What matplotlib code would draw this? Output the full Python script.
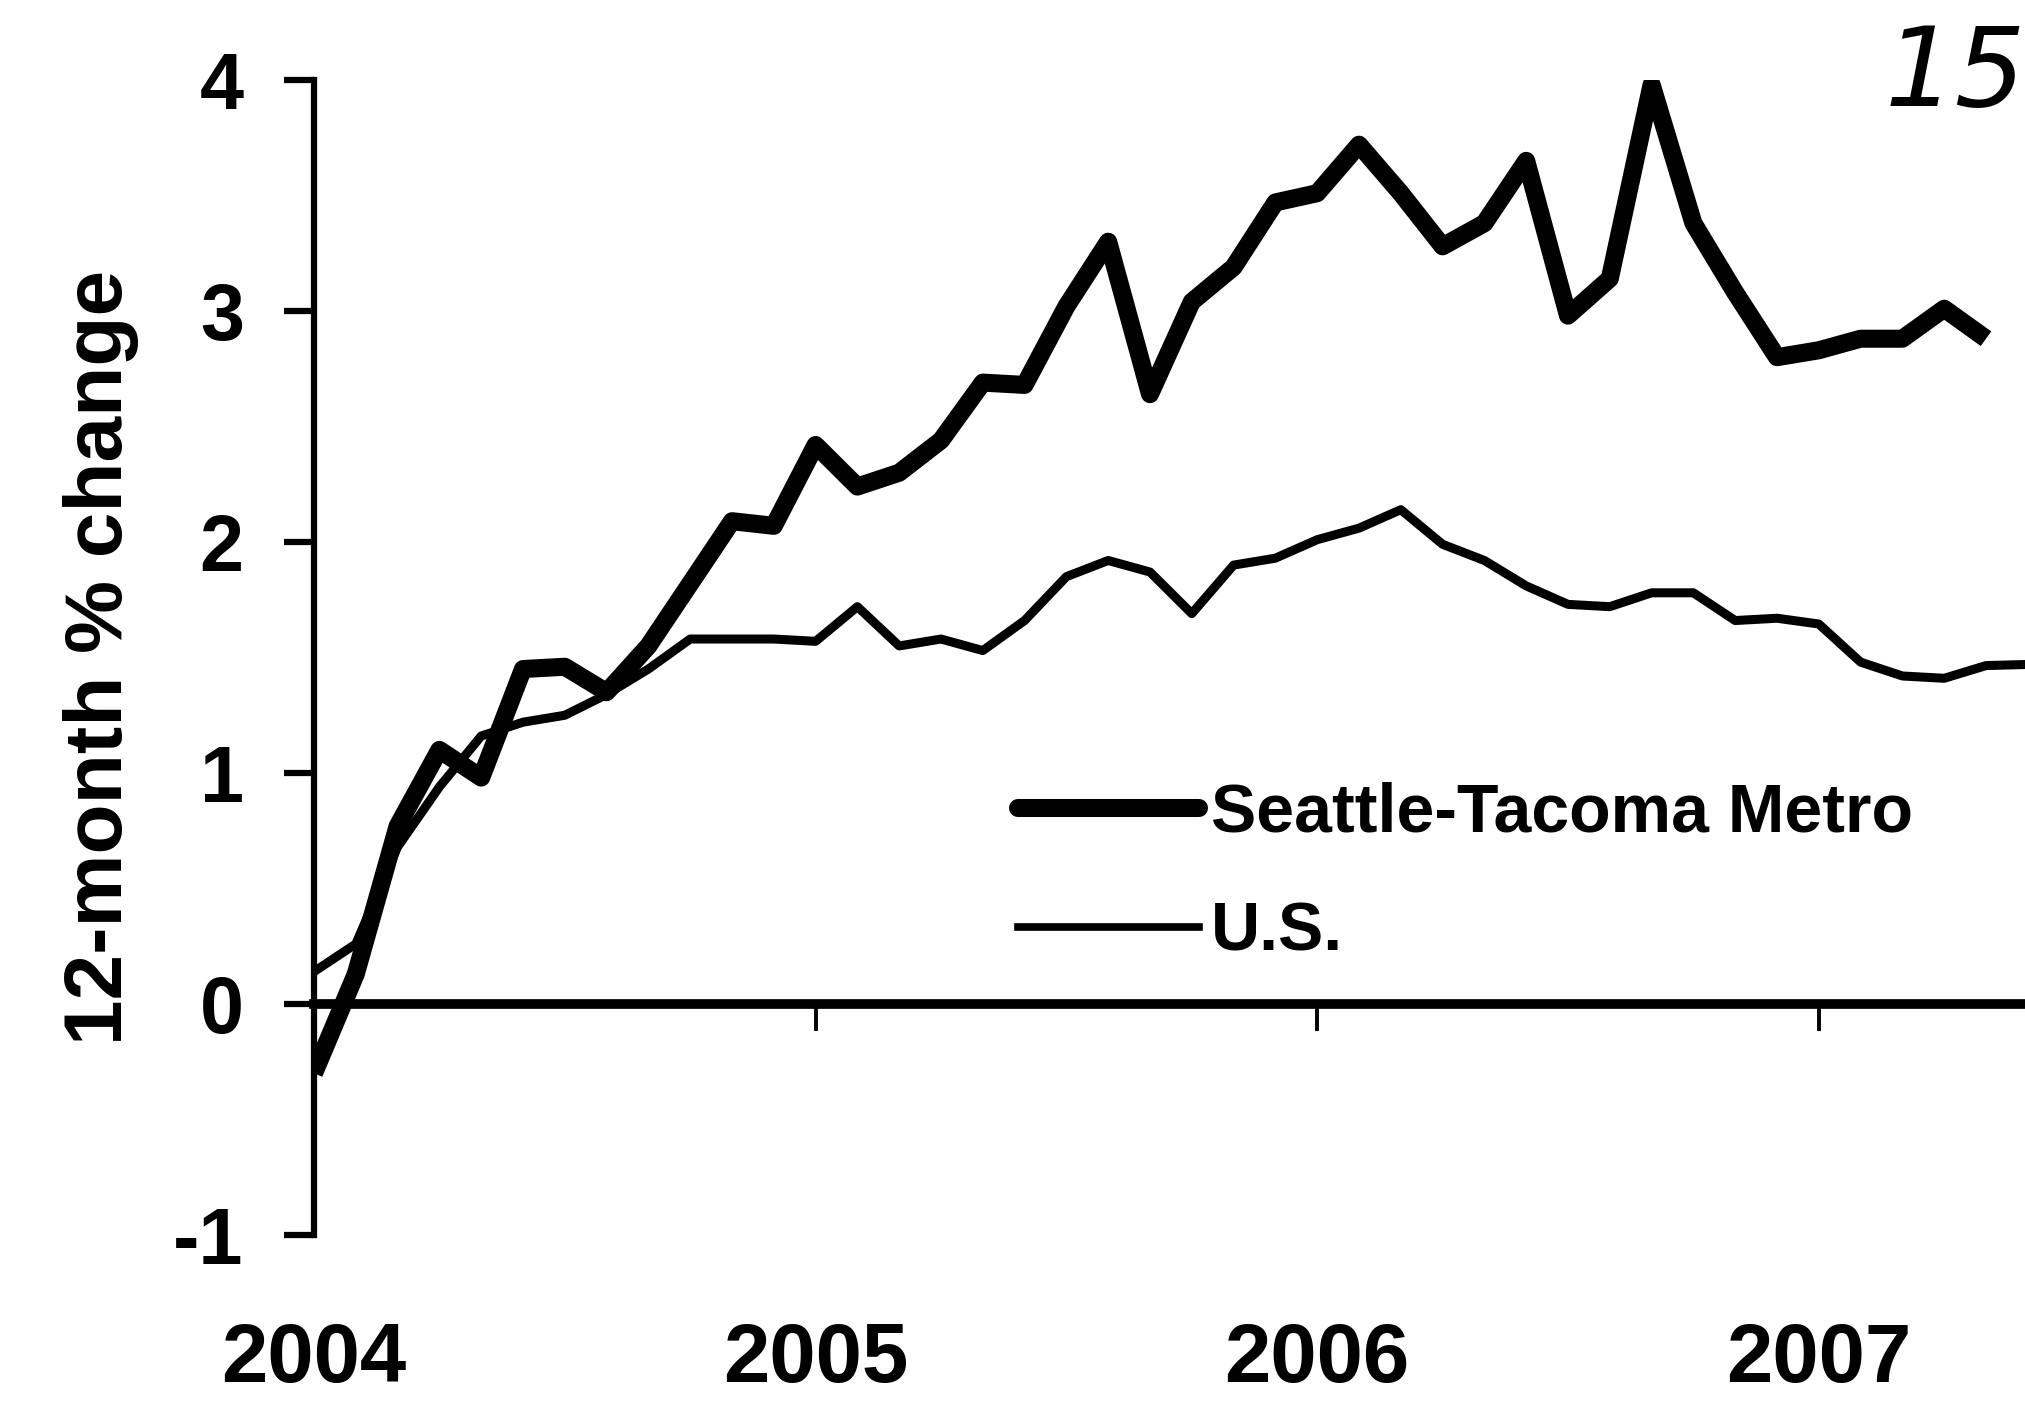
import matplotlib
matplotlib.use("Agg")
import matplotlib.pyplot as plt
from matplotlib.lines import Line2D

# ---- data (12-month % change, monthly from Jan 2004) ----
seattle = [-0.30, 0.13, 0.77, 1.10, 0.98, 1.45, 1.46, 1.35, 1.55, 1.82,
           2.09, 2.07, 2.42, 2.24, 2.30, 2.44, 2.69, 2.68, 3.02, 3.30,
           2.64, 3.04, 3.19, 3.47, 3.51, 3.72, 3.51, 3.28, 3.38, 3.65,
           2.98, 3.14, 3.98, 3.38, 3.08, 2.80, 2.83, 2.88, 2.88, 3.01,
           2.88]
us = [0.14, 0.26, 0.68, 0.94, 1.16, 1.22, 1.25, 1.34, 1.45, 1.58,
      1.58, 1.58, 1.57, 1.72, 1.55, 1.58, 1.53, 1.66, 1.85, 1.92,
      1.87, 1.69, 1.90, 1.93, 2.01, 2.06, 2.14, 1.99, 1.92, 1.81,
      1.73, 1.72, 1.78, 1.78, 1.66, 1.67, 1.645, 1.48, 1.42, 1.41,
      1.465, 1.47]
start_year = 2004
year_labels = ["2004", "2005", "2006", "2007"]
year_ticks = [2004, 2005, 2006, 2007]
y_ticks = [-1, 0, 1, 2, 3, 4]
series_names = ["Seattle-Tacoma Metro", "U.S."]
ylabel = "12-month % change"

x_sea = [start_year + i / 12 for i in range(len(seattle))]
x_us = [start_year + i / 12 for i in range(len(us))]

FONT = "Liberation Sans"
W, H, DPI = 2025, 1414, 100
fig = plt.figure(figsize=(W / DPI, H / DPI), dpi=DPI)
fig.patch.set_facecolor("white")

ax_left, ax_right = 314 / W, 1.0
ax_bottom, ax_top = 1 - 1235 / H, 1 - 80 / H
ax = fig.add_axes([ax_left, ax_bottom, ax_right - ax_left, ax_top - ax_bottom])

LW_SEA, LW_US = 13, 6.5
ax.plot(x_sea, seattle, color="black", lw=LW_SEA, solid_joinstyle="round",
        solid_capstyle="butt", zorder=3)
ax.plot(x_us, us, color="black", lw=LW_US, solid_joinstyle="round", zorder=3)

ax.set_ylim(-1, 4)
ax.set_xlim(2004, 2004 + (W - 314) / 41.8 / 12)

for s in ["top", "right"]:
    ax.spines[s].set_visible(False)
ax.spines["left"].set_linewidth(4.5)
ax.spines["bottom"].set_position(("data", 0))
ax.spines["bottom"].set_linewidth(7)

ax.set_yticks(y_ticks)
ax.set_yticklabels([str(v) for v in y_ticks], fontfamily=FONT,
                   fontweight="bold", fontsize=57)
ax.tick_params(axis="y", direction="out", length=21.6, width=4.5, pad=29)

ax.set_xticks(year_ticks[1:])
ax.set_xticklabels([])
ax.tick_params(axis="x", direction="out", length=19.5, width=2.8)

sec = ax.secondary_xaxis(0)
sec.set_xticks(year_ticks)
sec.set_xticklabels(year_labels, fontfamily=FONT, fontweight="bold",
                    fontsize=60)
sec.tick_params(length=0, pad=62)
sec.spines["bottom"].set_visible(False)

ax.set_ylabel(ylabel, fontfamily=FONT, fontweight="bold", fontsize=59)
ax.yaxis.set_label_coords(-0.102, 0.5)

handles = [Line2D([], [], color="black", lw=LW_SEA, solid_capstyle="round"),
           Line2D([], [], color="black", lw=LW_US - 1)]
leg = ax.legend(handles, series_names, loc="upper left",
                bbox_to_anchor=(1018 / W, 1 - 782 / H),
                bbox_transform=fig.transFigure, frameon=False,
                borderpad=0, borderaxespad=0, handlelength=2.66,
                handletextpad=0.18, labelspacing=0.8,
                prop={"family": FONT, "weight": "bold", "size": 49})

# handwritten page mark in the top right corner
fig.text(1955 / W, 1 - 75 / H, "15", fontfamily="DejaVu Sans", fontsize=80,
         fontstyle="italic", ha="center", va="center", color="black")

fig.savefig("out.png", dpi=DPI, facecolor="white")
